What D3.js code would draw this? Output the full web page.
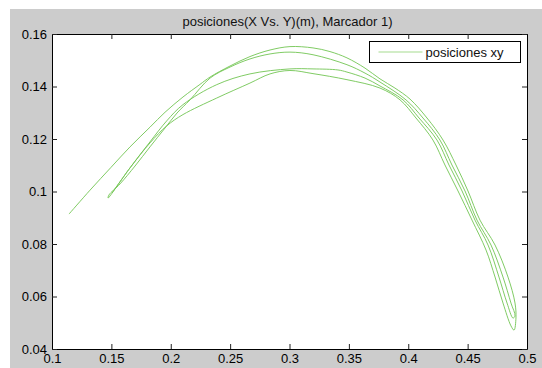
<!DOCTYPE html>
<html>
<head>
<meta charset="utf-8">
<script src="https://cdn.jsdelivr.net/npm/d3@7"></script>
<style>
  html, body { margin: 0; padding: 0; background: #ffffff; }
  svg { display: block; }
</style>
</head>
<body>
<svg id="chart" width="542" height="368"></svg>
<script>
// ---- data -------------------------------------------------------------
const chartTitle = "posiciones(X Vs. Y)(m), Marcador 1)";
const seriesName = "posiciones xy";

const xTicks = [0.1, 0.15, 0.2, 0.25, 0.3, 0.35, 0.4, 0.45, 0.5];
const xTickLabels = ["0.1", "0.15", "0.2", "0.25", "0.3", "0.35", "0.4", "0.45", "0.5"];
const yTicks = [0.04, 0.06, 0.08, 0.1, 0.12, 0.14, 0.16];
const yTickLabels = ["0.04", "0.06", "0.08", "0.1", "0.12", "0.14", "0.16"];

// marker 1 trajectory, recorded in four passes (m)
// pass 1: outward along the highest arc
const pass1X = [0.1143, 0.1320, 0.1497, 0.1657, 0.1825, 0.1952, 0.2103, 0.2246, 0.2331, 0.2499,
                0.2667, 0.2836, 0.3004, 0.3198, 0.3341, 0.3484, 0.3636, 0.3762, 0.3888, 0.4015,
                0.4158, 0.4293, 0.4402, 0.4503, 0.4604, 0.4731, 0.4840, 0.4899, 0.4907, 0.4891];
const pass1Y = [0.0914, 0.1005, 0.1092, 0.1170, 0.1245, 0.1302, 0.1360, 0.1408, 0.1436, 0.1478,
                0.1514, 0.1539, 0.1552, 0.1547, 0.1533, 0.1509, 0.1470, 0.1429, 0.1394, 0.1352,
                0.1280, 0.1196, 0.1101, 0.1002, 0.0891, 0.0796, 0.0674, 0.0575, 0.0518, 0.0472];
// pass 2: back along the inner arc
const pass2X = [0.4865, 0.4798, 0.4731, 0.4655, 0.4537, 0.4419, 0.4309, 0.4208, 0.4065, 0.3931,
                0.3762, 0.3484, 0.3198, 0.3004, 0.2836, 0.2667, 0.2387, 0.2103, 0.1966, 0.1825,
                0.1657, 0.1472];
const pass2Y = [0.0488, 0.0575, 0.0674, 0.0777, 0.0891, 0.1002, 0.1101, 0.1196, 0.1280, 0.1349,
                0.1394, 0.1426, 0.1449, 0.1461, 0.1448, 0.1413, 0.1356, 0.1293, 0.1250, 0.1185,
                0.1090, 0.0975];
// pass 3: outward again
const pass3X = [0.1480, 0.1573, 0.1699, 0.1825, 0.1952, 0.2053, 0.2162, 0.2331, 0.2499, 0.2667,
                0.2836, 0.3004, 0.3198, 0.3484, 0.3636, 0.3762, 0.3981, 0.4124, 0.4267, 0.4368,
                0.4478, 0.4579, 0.4697, 0.4798, 0.4865, 0.4899];
const pass3Y = [0.0987, 0.1029, 0.1097, 0.1170, 0.1242, 0.1299, 0.1349, 0.1432, 0.1474, 0.1505,
                0.1524, 0.1531, 0.1521, 0.1483, 0.1451, 0.1417, 0.1349, 0.1280, 0.1196, 0.1101,
                0.1002, 0.0891, 0.0796, 0.0674, 0.0575, 0.0526];
// pass 4: return along the flat arc
const pass4X = [0.4882, 0.4832, 0.4764, 0.4672, 0.4562, 0.4453, 0.4343, 0.4242, 0.4091, 0.3956,
                0.3762, 0.3636, 0.3484, 0.3408, 0.3198, 0.3004, 0.2667, 0.2387, 0.2103, 0.1966,
                0.1825, 0.1657, 0.1505];
const pass4Y = [0.0518, 0.0575, 0.0674, 0.0796, 0.0891, 0.1002, 0.1101, 0.1196, 0.1280, 0.1349,
                0.1402, 0.1432, 0.1455, 0.1463, 0.1467, 0.1467, 0.1448, 0.1407, 0.1331, 0.1269,
                0.1189, 0.1090, 0.0994];

const posX = [].concat(pass1X, pass2X, pass3X, pass4X);
const posY = [].concat(pass1Y, pass2Y, pass3Y, pass4Y);
const points = posX.map((x, i) => [x, posY[i]]);

// ---- layout -----------------------------------------------------------
const W = 542, H = 368;
const plot = { left: 52, top: 34, right: 527, bottom: 349 };
const FONT = "'Liberation Sans', Arial, Helvetica, sans-serif";
const lineColor = "#72c552";
const legendLineColor = "#a6db90";

const svg = d3.select("#chart");

// figure background
svg.append("rect").attr("x", 0).attr("y", 0).attr("width", W).attr("height", H).attr("fill", "#ffffff");
svg.append("rect").attr("x", 10).attr("y", 9).attr("width", W - 10).attr("height", H - 9).attr("fill", "#cccccc");

const x = d3.scaleLinear().domain([0.1, 0.5]).range([plot.left, plot.right]);
const y = d3.scaleLinear().domain([0.04, 0.16]).range([plot.bottom, plot.top]);

// axes area
svg.append("rect")
  .attr("x", plot.left).attr("y", plot.top)
  .attr("width", plot.right - plot.left).attr("height", plot.bottom - plot.top)
  .attr("fill", "#ffffff");

// clipped data line
svg.append("clipPath").attr("id", "plotClip")
  .append("rect")
  .attr("x", plot.left).attr("y", plot.top)
  .attr("width", plot.right - plot.left).attr("height", plot.bottom - plot.top);

const line = d3.line()
  .x(d => x(d[0]))
  .y(d => y(d[1]))
  .curve(d3.curveCatmullRom.alpha(0.5));

svg.append("path")
  .datum(points)
  .attr("clip-path", "url(#plotClip)")
  .attr("fill", "none")
  .attr("stroke", lineColor)
  .attr("stroke-width", 0.9)
  .attr("stroke-linejoin", "round")
  .attr("d", line);

// axes with inward ticks on all four sides
const tickLen = 5;
const styleAxis = g => {
  g.selectAll("path.domain").attr("stroke", "#000").attr("stroke-width", 1);
  g.selectAll(".tick line").attr("stroke", "#222").attr("stroke-width", 1);
  g.selectAll(".tick text")
    .attr("font-family", FONT).attr("font-size", "13px").attr("fill", "#000");
};

svg.append("g")
  .attr("transform", `translate(0,${plot.bottom})`)
  .call(d3.axisBottom(x).tickValues(xTicks).tickFormat((d, i) => xTickLabels[i])
        .tickSizeInner(-tickLen).tickSizeOuter(0).tickPadding(5))
  .call(styleAxis);

svg.append("g")
  .attr("transform", `translate(0,${plot.top})`)
  .call(d3.axisTop(x).tickValues(xTicks).tickFormat("")
        .tickSizeInner(-tickLen).tickSizeOuter(0))
  .call(styleAxis);

svg.append("g")
  .attr("transform", `translate(${plot.left},0)`)
  .call(d3.axisLeft(y).tickValues(yTicks).tickFormat((d, i) => yTickLabels[i])
        .tickSizeInner(-tickLen).tickSizeOuter(0).tickPadding(5))
  .call(styleAxis);

svg.append("g")
  .attr("transform", `translate(${plot.right},0)`)
  .call(d3.axisRight(y).tickValues(yTicks).tickFormat("")
        .tickSizeInner(-tickLen).tickSizeOuter(0))
  .call(styleAxis);

// title
svg.append("text")
  .attr("x", (plot.left + plot.right) / 2 - 2)
  .attr("y", 26)
  .attr("text-anchor", "middle")
  .attr("font-family", FONT)
  .attr("font-size", "13px")
  .attr("fill", "#111")
  .text(chartTitle);

// legend
const legend = svg.append("g").attr("transform", "translate(369.5,41.5)");
legend.append("rect")
  .attr("width", 151).attr("height", 21)
  .attr("fill", "#ffffff").attr("stroke", "#000").attr("stroke-width", 1);
legend.append("line")
  .attr("x1", 9).attr("x2", 53).attr("y1", 10.5).attr("y2", 10.5)
  .attr("stroke", legendLineColor).attr("stroke-width", 1.2);
legend.append("text")
  .attr("x", 56).attr("y", 15.5)
  .attr("font-family", FONT).attr("font-size", "13px").attr("fill", "#111")
  .text(seriesName);
</script>
</body>
</html>
